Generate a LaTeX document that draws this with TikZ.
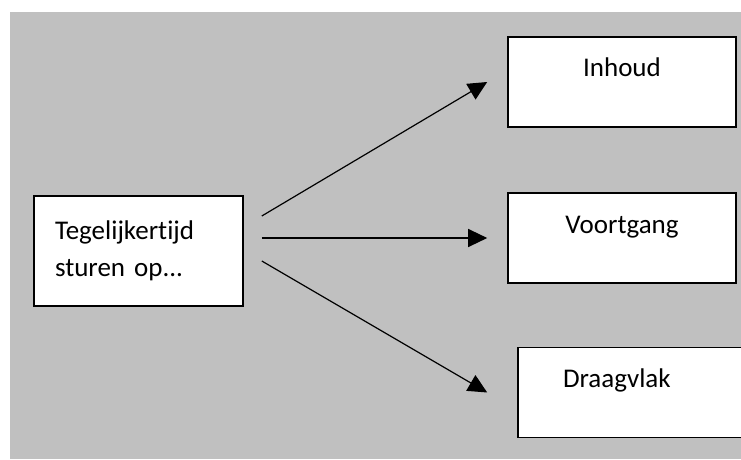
\documentclass[tikz,border=0pt]{standalone}
\usepackage{fontspec}
\setmainfont{Carlito}[Ligatures=CommonOff]
\usepackage{xcolor}
\usetikzlibrary{arrows.meta}

\definecolor{grijs}{RGB}{192,192,192}

\begin{document}
\begin{tikzpicture}[
  x=1pt, y=1pt,
  font=\fontsize{27}{37}\selectfont,
  kader/.style={draw, line width=1.6pt, fill=white},
  vak/.style={kader, inner sep=0pt, minimum width=228pt, text height=40pt, text depth=50pt},
  pijl/.style={line width=1.2pt, -{Triangle[length=19pt,width=18pt]}}]

\useasboundingbox (0,0) rectangle (741,459);
\fill[grijs] (10,0) rectangle (741,447);

\node[kader, text width=167pt, align=left, inner xsep=21pt, inner ysep=0pt,
  minimum width=209pt, minimum height=110pt] (links) at (138.5,208) {Tegelijkertijd\\sturen op...};

\node[vak] (inhoud) at (622,377) {Inhoud};
\node[vak] (voortgang) at (622,221) {Voortgang};
\node[vak, text width=138pt, align=left, inner xsep=45pt] (draagvlak) at (632,66.5) {Draagvlak};

\draw[pijl] ([shift={(18,35)}]links.east) -- ([xshift=-20pt]inhoud.west);
\draw[pijl] ([shift={(18,13)}]links.east) -- ([xshift=-20pt]voortgang.west);
\draw[pijl] ([shift={(18,-10)}]links.east) -- ([xshift=-30pt]draagvlak.west);
\end{tikzpicture}
\end{document}
